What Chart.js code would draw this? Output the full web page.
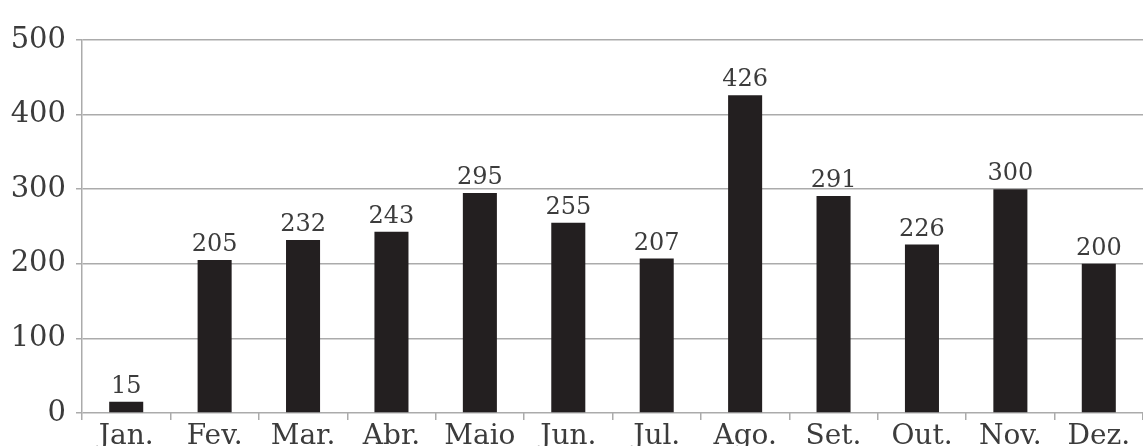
<!DOCTYPE html>
<html>
<head>
<meta charset="utf-8">
<script src="https://cdn.jsdelivr.net/npm/chart.js@4/dist/chart.umd.min.js"></script>
<style>
html,body{margin:0;padding:0;background:#fff}
#wrap{width:1143px;height:446px;position:relative}
</style>
</head>
<body>
<div id="wrap"><canvas id="c"></canvas></div>
<script>
var months=['Jan.','Fev.','Mar.','Abr.','Maio','Jun.','Jul.','Ago.','Set.','Out.','Nov.','Dez.'];
var values=[15,205,232,243,295,255,207,426,291,226,300,200];
var yTicks=[0,100,200,300,400,500];

var txt='#3c3c3c',grid='#ababab',font='"DejaVu Serif", serif';

// value above each bar, placed from the bar elements
var valueLabels={
  id:'valueLabels',
  afterDatasetsDraw:function(ch){
    var c=ch.ctx,m=ch.getDatasetMeta(0);
    c.save();
    c.font='24px '+font;c.fillStyle=txt;c.textAlign='center';c.textBaseline='bottom';
    m.data.forEach(function(b,i){c.fillText(String(values[i]),b.x,b.y-3);});
    c.restore();
  }
};

new Chart(document.getElementById('c'),{
  type:'bar',
  data:{labels:months,datasets:[{data:values,backgroundColor:'#231f20',barPercentage:0.385,categoryPercentage:1}]},
  options:{
    responsive:true,maintainAspectRatio:false,animation:false,
    layout:{padding:{top:40,right:0,left:0,bottom:0}},
    plugins:{legend:{display:false},tooltip:{enabled:false}},
    scales:{
      x:{
        grid:{display:true,drawOnChartArea:false,offset:true,tickLength:7,color:grid,lineWidth:1.5},
        border:{display:false},
        ticks:{color:txt,font:{family:font,size:28},padding:0,maxRotation:0,autoSkip:false},
        afterFit:function(s){s.height=33;}
      },
      y:{
        min:0,max:500,
        afterBuildTicks:function(s){s.ticks=yTicks.map(function(v){return {value:v};});},
        grid:{color:grid,lineWidth:1.5,tickLength:6},
        border:{display:true,color:grid,width:1.5},
        ticks:{color:txt,font:{family:font,size:29},padding:10},
        afterFit:function(s){s.width=82;}
      }
    }
  },
  plugins:[valueLabels]
});
</script>
</body>
</html>
